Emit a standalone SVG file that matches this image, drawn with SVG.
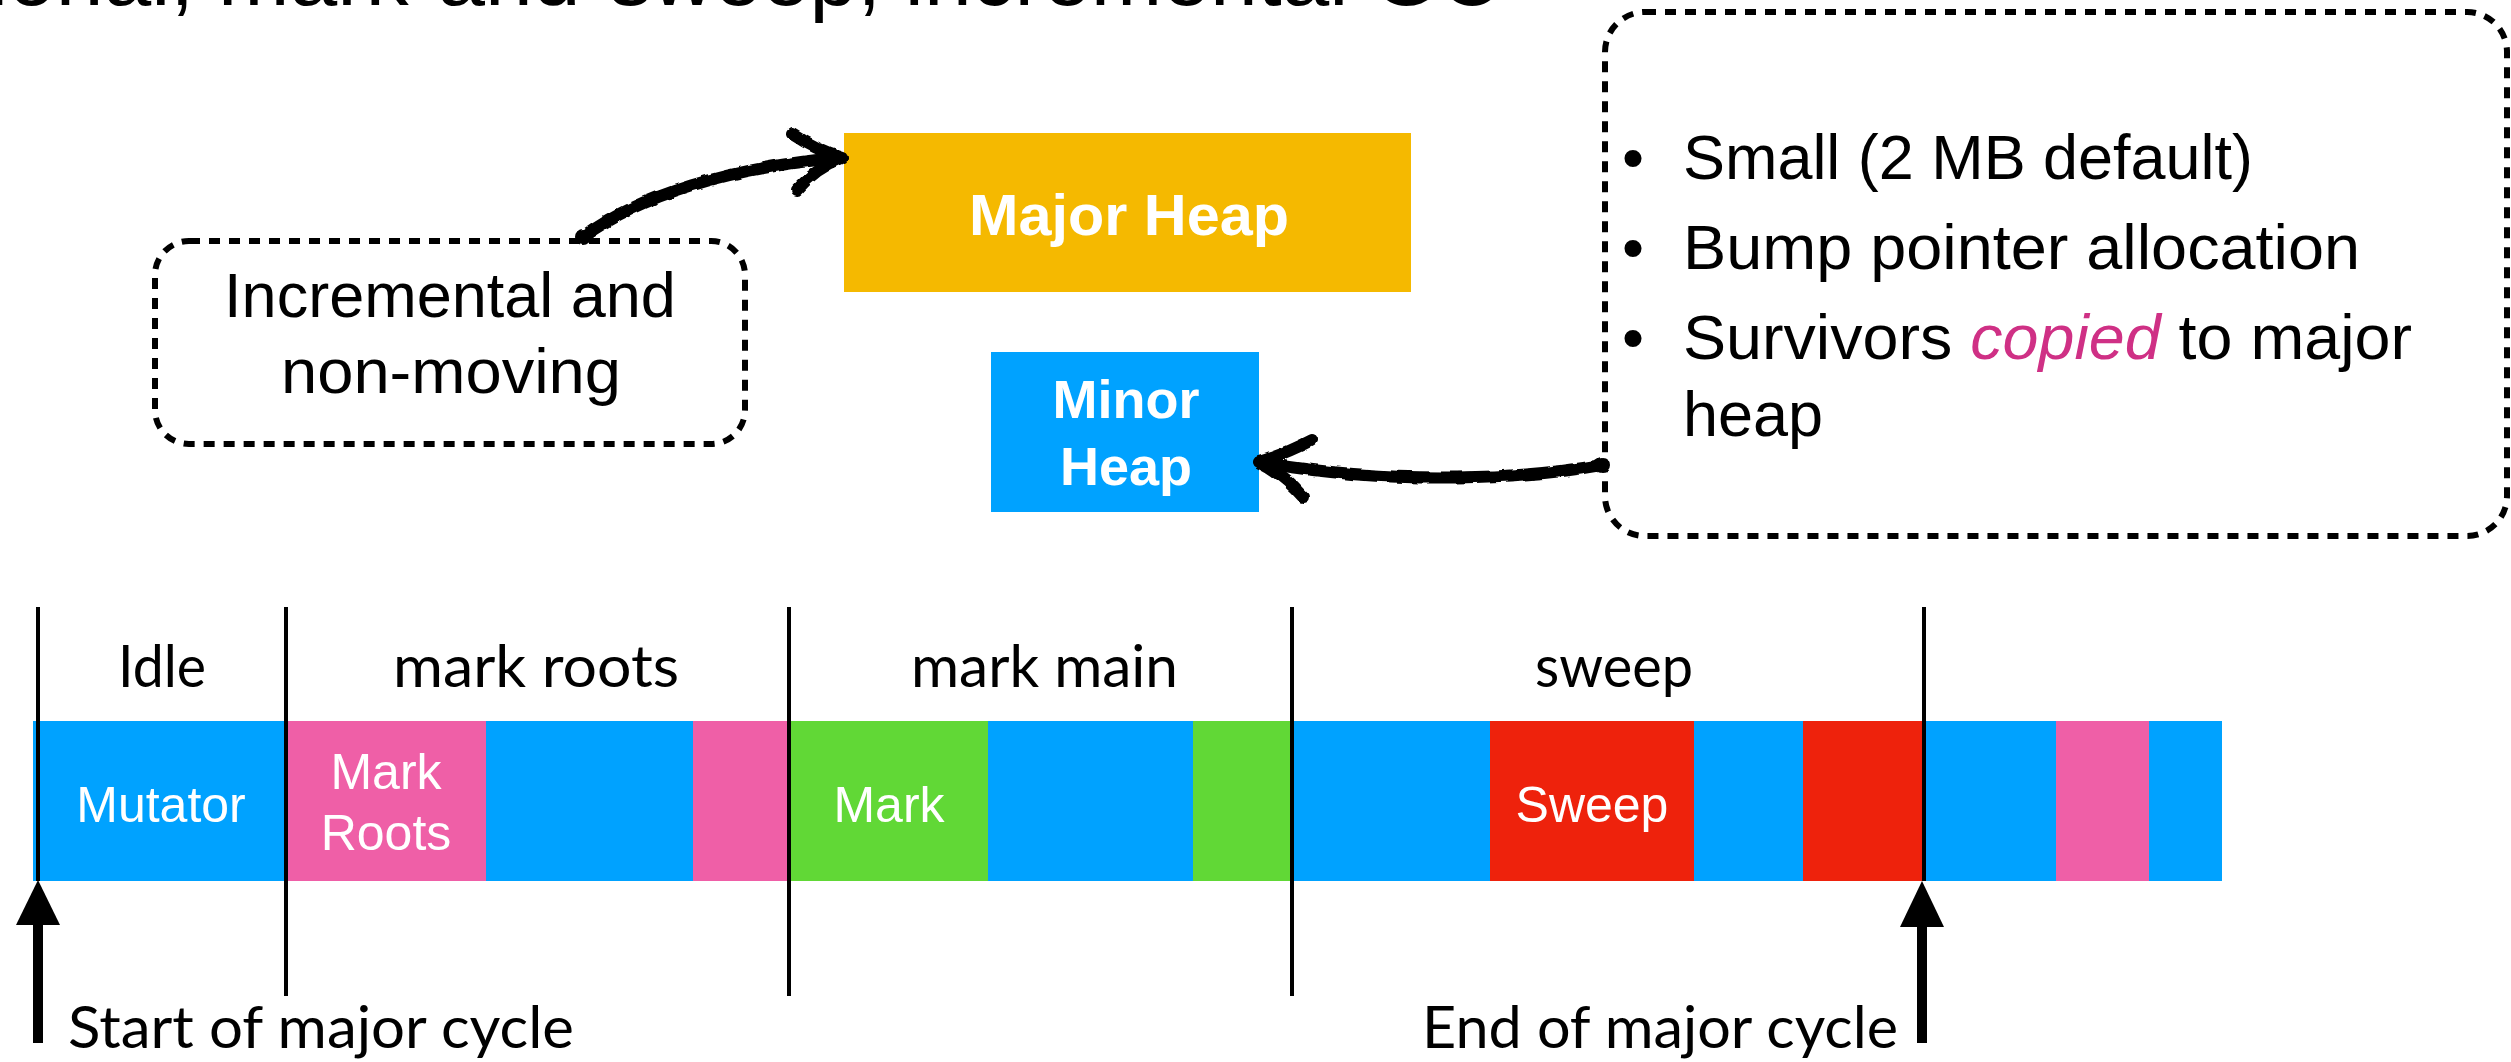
<svg xmlns="http://www.w3.org/2000/svg" width="2511" height="1062" viewBox="0 0 2511 1062">
  <style>
    .helv { font-family: "Liberation Sans", Arial, sans-serif; }
    .gill { font-family: Lato, "Open Sans", sans-serif; font-size: 58px; fill: #000; }
    .bold { font-weight: bold; }
    .white { fill: #fff; }
    .dotbox { fill: none; stroke: #000; stroke-width: 6; stroke-dasharray: 11 9; }
    .divider { stroke: #000; stroke-width: 4; fill: none; }
    .hand { fill: none; stroke: #000; stroke-width: 12; stroke-linecap: round; stroke-linejoin: round; }
    .blue { fill: #00A2FF; }
    .pink { fill: #EF5FA7; }
    .green { fill: #61D836; }
    .red { fill: #EE220C; }
    .orange { fill: #F5B900; }
    .seglabel { font-family: "Liberation Sans", Arial, sans-serif; font-size: 50px; fill: #fff; text-anchor: middle; }
  </style>
  <defs>
    <filter id="rough" x="-5%" y="-20%" width="110%" height="140%">
      <feTurbulence type="fractalNoise" baseFrequency="0.09" numOctaves="2" seed="3" result="n"/>
      <feDisplacementMap in="SourceGraphic" in2="n" scale="4" xChannelSelector="R" yChannelSelector="G"/>
    </filter>
  </defs>

  <rect width="2511" height="1062" fill="#fff"/>

  <!-- Title (cut off at top, as in the reference) -->
  <text id="title" class="helv" x="-11" y="5" font-size="86" textLength="1512" lengthAdjust="spacingAndGlyphs">ional, mark-and-sweep, incremental GC</text>

  <!-- Major Heap -->
  <g id="major-heap">
    <rect class="orange" x="844" y="133" width="567" height="159"/>
    <text class="helv bold white" x="1129" y="235" font-size="58" text-anchor="middle" textLength="320" lengthAdjust="spacingAndGlyphs">Major Heap</text>
  </g>

  <!-- Minor Heap -->
  <g id="minor-heap">
    <rect class="blue" x="991" y="352" width="268" height="160"/>
    <text class="helv bold white" x="1126" y="418" font-size="54" text-anchor="middle">Minor</text>
    <text class="helv bold white" x="1126" y="485" font-size="54" text-anchor="middle">Heap</text>
  </g>

  <!-- Incremental note -->
  <g id="note-incremental">
    <rect class="dotbox" x="155" y="241" width="590" height="203" rx="34"/>
    <text class="helv" x="450" y="317" font-size="63" text-anchor="middle">Incremental and</text>
    <text class="helv" x="451" y="393" font-size="63" text-anchor="middle" textLength="340" lengthAdjust="spacingAndGlyphs">non-moving</text>
  </g>

  <!-- Minor heap description note -->
  <g id="note-minor">
    <rect class="dotbox" x="1605" y="12" width="902" height="524" rx="40"/>
    <g class="helv" font-size="63">
      <text x="1622" y="179">•</text>
      <text x="1683" y="179" textLength="570" lengthAdjust="spacingAndGlyphs">Small (2 MB default)</text>
      <text x="1622" y="269">•</text>
      <text x="1683" y="269" textLength="677" lengthAdjust="spacingAndGlyphs">Bump pointer allocation</text>
      <text x="1622" y="359">•</text>
      <text x="1683" y="359" textLength="729" lengthAdjust="spacingAndGlyphs">Survivors <tspan fill="#CF3085" font-style="italic">copied</tspan> to major</text>
      <text x="1683" y="436">heap</text>
    </g>
  </g>

  <!-- Phase labels -->
  <g id="phase-labels">
    <text class="gill" x="118" y="687" textLength="88" lengthAdjust="spacingAndGlyphs">Idle</text>
    <text class="gill" x="393" y="687" textLength="286" lengthAdjust="spacingAndGlyphs">mark roots</text>
    <text class="gill" x="911" y="687" textLength="267" lengthAdjust="spacingAndGlyphs">mark main</text>
    <text class="gill" x="1535" y="687" textLength="158" lengthAdjust="spacingAndGlyphs">sweep</text>
  </g>

  <!-- Timeline bar segments -->
  <g id="timeline">
    <g id="seg-mutator"><rect class="blue" x="33" y="721" width="253" height="160"/><text class="seglabel" x="161" y="822">Mutator</text></g>
    <g id="seg-mark-roots"><rect class="pink" x="286" y="721" width="200" height="160"/><text class="seglabel" x="386" y="789">Mark</text><text class="seglabel" x="386" y="850">Roots</text></g>
    <g id="seg-3"><rect class="blue" x="486" y="721" width="207" height="160"/></g>
    <g id="seg-4"><rect class="pink" x="693" y="721" width="96" height="160"/></g>
    <g id="seg-mark"><rect class="green" x="789" y="721" width="199" height="160"/><text class="seglabel" x="889" y="822">Mark</text></g>
    <g id="seg-6"><rect class="blue" x="988" y="721" width="205" height="160"/></g>
    <g id="seg-7"><rect class="green" x="1193" y="721" width="99" height="160"/></g>
    <g id="seg-8"><rect class="blue" x="1292" y="721" width="198" height="160"/></g>
    <g id="seg-sweep"><rect class="red" x="1490" y="721" width="204" height="160"/><text class="seglabel" x="1592" y="822">Sweep</text></g>
    <g id="seg-10"><rect class="blue" x="1694" y="721" width="109" height="160"/></g>
    <g id="seg-11"><rect class="red" x="1803" y="721" width="121" height="160"/></g>
    <g id="seg-12"><rect class="blue" x="1924" y="721" width="132" height="160"/></g>
    <g id="seg-13"><rect class="pink" x="2056" y="721" width="93" height="160"/></g>
    <g id="seg-14"><rect class="blue" x="2149" y="721" width="73" height="160"/></g>
  </g>

  <!-- Phase dividers -->
  <g id="dividers">
    <line class="divider" x1="38" y1="607" x2="38" y2="881"/>
    <line class="divider" x1="286" y1="607" x2="286" y2="996"/>
    <line class="divider" x1="789" y1="607" x2="789" y2="996"/>
    <line class="divider" x1="1292" y1="607" x2="1292" y2="996"/>
    <line class="divider" x1="1924" y1="607" x2="1924" y2="881"/>
  </g>

  <!-- Cycle markers -->
  <g id="start-marker">
    <rect x="33" y="920" width="10" height="123" fill="#000"/>
    <polygon points="38,880 60,925 16,925" fill="#000"/>
    <text class="gill" x="68" y="1048" textLength="506" lengthAdjust="spacingAndGlyphs">Start of major cycle</text>
  </g>
  <g id="end-marker">
    <rect x="1917" y="920" width="10" height="123" fill="#000"/>
    <polygon points="1922,881 1944,927 1900,927" fill="#000"/>
    <text class="gill" x="1422" y="1048" textLength="476" lengthAdjust="spacingAndGlyphs">End of major cycle</text>
  </g>

  <!-- Connectors -->
  <g id="connectors" filter="url(#rough)">
    <g id="arrow-incremental-to-major">
      <circle cx="583" cy="237" r="8" fill="#000"/>
      <path class="hand" d="M 583 237 C 640 195, 730 168, 836 158"/>
      <path class="hand" d="M 792 134 Q 816 150 842 158 Q 816 168 797 190"/>
      <polygon points="818,147 845,158 818,169" fill="#000"/>
    </g>
    <g id="arrow-note-to-minor">
      <circle cx="1602" cy="465" r="8" fill="#000"/>
      <path class="hand" d="M 1602 465 C 1530 478, 1400 486, 1264 463"/>
      <path class="hand" d="M 1312 440 Q 1285 454 1259 462 Q 1284 475 1303 497"/>
      <polygon points="1284,451 1257,462 1284,474" fill="#000"/>
    </g>
  </g>
</svg>
